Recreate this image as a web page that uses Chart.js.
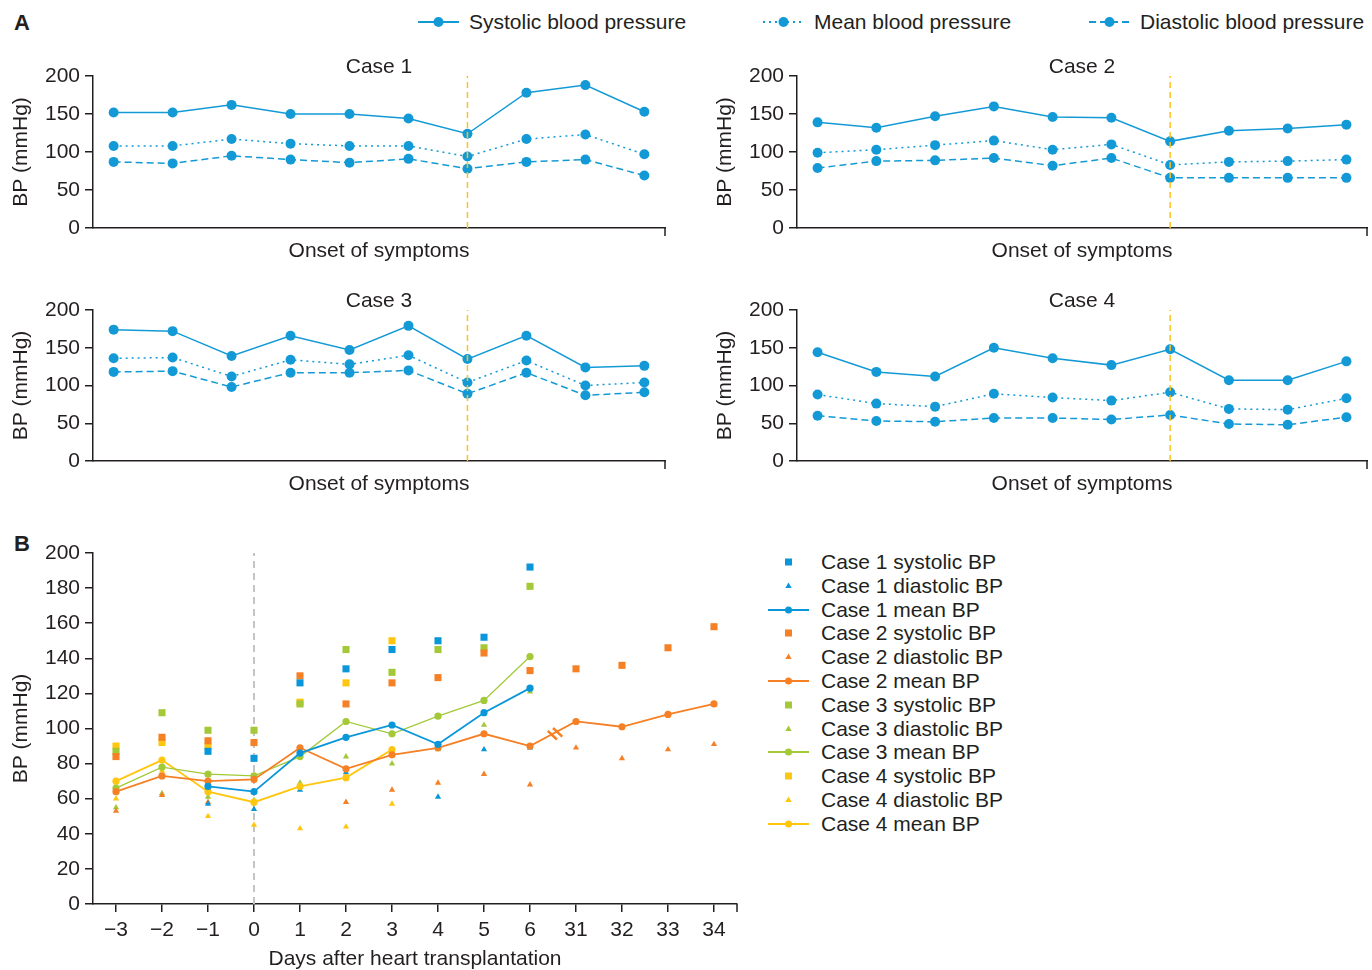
<!DOCTYPE html>
<html>
<head>
<meta charset="utf-8">
<script src="https://cdn.jsdelivr.net/npm/chart.js@4.4.1/dist/chart.umd.min.js"></script>
<style>
  body { margin: 0; background: #fff; font-family: 'Liberation Sans', Arial, sans-serif; color: #231f20; }
  #page { position: relative; width: 1372px; height: 970px; overflow: hidden; background: #fff; }
  .box { position: absolute; }
  .panel { position: absolute; font-weight: bold; font-size: 22px; line-height: 26px; }
  .leg { position: absolute; font-size: 21px; line-height: 24px; white-space: nowrap; display: flex; align-items: center; }
  .leg svg { flex: none; }
</style>
</head>
<body>
<div id="page">
  <div class="panel" style="left:14px;top:10px">A</div>
  <div class="panel" style="left:14px;top:531px">B</div>

  <canvas id="case1" class="box" width="690" height="215" style="left:0;top:50px"></canvas>
  <canvas id="case2" class="box" width="668" height="215" style="left:704px;top:50px"></canvas>
  <canvas id="case3" class="box" width="690" height="214" style="left:0;top:284px"></canvas>
  <canvas id="case4" class="box" width="668" height="214" style="left:704px;top:284px"></canvas>
  <canvas id="panelB" class="box" width="760" height="445" style="left:0;top:527px"></canvas>

  <div id="legendA"></div>
  <div id="legendB"></div>
</div>

<script>
// ===== Panel A: BP around onset of symptoms (10 time points each) =====
const aTimepoints = [0, 1, 2, 3, 4, 5, 6, 7, 8, 9];
const onsetIndex = 6;

const case1Sys  = [152, 152, 162, 150, 150, 144, 124, 178, 188, 153];
const case1Mean = [108, 108, 117, 111, 108, 108, 94, 117, 123, 97];
const case1Dia  = [87, 85, 95, 90, 86, 91, 78, 87, 90, 69];

const case2Sys  = [139, 132, 147, 160, 146, 145, 114, 128, 131, 136];
const case2Mean = [99, 103, 109, 115, 103, 110, 83, 87, 88, 90];
const case2Dia  = [79, 88, 89, 92, 82, 92, 66, 66, 66, 66];

const case3Sys  = [174, 172, 139, 166, 147, 179, 135, 166, 124, 126];
const case3Mean = [136, 137, 112, 134, 128, 140, 104, 133, 100, 104];
const case3Dia  = [118, 119, 98, 117, 117, 120, 89, 117, 87, 91];

const case4Sys  = [144, 118, 112, 150, 136, 127, 148, 107, 107, 132];
const case4Mean = [88, 76, 72, 89, 84, 80, 91, 69, 68, 83];
const case4Dia  = [60, 53, 52, 57, 57, 55, 61, 49, 48, 58];

// ===== Panel B: BP after heart transplantation =====
const bDays = ['\u22123', '\u22122', '\u22121', '0', '1', '2', '3', '4', '5', '6', '31', '32', '33', '34'];
const transplantDay = '0';
const breakAfter = '6';

const c1SysB  = [null, null, 87, 83, 126, 134, 145, 150, 152, 192, null, null, null, null];
const c1DiaB  = [null, null, 57, 54, 65, 75, null, 61, 88, 89, null, null, null, null];
const c1MeanB = [null, null, 67, 64, 86, 95, 102, 91, 109, 123, null, null, null, null];

const c2SysB  = [84, 95, 93, 92, 130, 114, 126, 129, 143, 133, 134, 136, 146, 158];
const c2DiaB  = [53, 62, 58, null, null, 58, 65, 69, 74, 68, 89, 83, 88, 91];
const c2MeanB = [64, 73, 70, 71, 89, 77, 85, 89, 97, 90, 104, 101, 108, 114];

const c3SysB  = [87, 109, 99, 99, 114, 145, 132, 145, 146, 181, null, null, null, null];
const c3DiaB  = [55, 63, 61, 59, 69, 84, 80, 88, 102, 121, null, null, null, null];
const c3MeanB = [66, 78, 74, 73, 84, 104, 97, 107, 116, 141, null, null, null, null];

const c4SysB  = [90, 92, 90, null, 115, 126, 150, null, null, null, null, null, null, null];
const c4DiaB  = [60, 76, 50, 45, 43, 44, 57, null, null, null, null, null, null, null];
const c4MeanB = [70, 82, 64, 58, 67, 72, 88, null, null, null, null, null, null, null];

// ===== styles =====
const TEXT = '#231f20';
const AXIS = '#231f20';
const BLUE_A = '#139ad6';
const ONSET = '#fcc21b';
const caseColors = ['#0a97d9', '#f58025', '#a3c939', '#ffc610'];
const FONT = "'Liberation Sans', Arial, sans-serif";

Chart.defaults.font.family = FONT;
Chart.defaults.font.size = 21;
Chart.defaults.color = TEXT;
Chart.defaults.animation = false;

const DASH_MEAN = [2, 4];
const DASH_DIA = [7, 4];

// end tick on x axis + panel title
const panelDeco = {
  id: 'panelDeco',
  afterDraw(chart, args, opts) {
    const { ctx, chartArea: a } = chart;
    ctx.save();
    ctx.strokeStyle = AXIS;
    ctx.lineWidth = 1.5;
    ctx.beginPath();
    ctx.moveTo(a.right, a.bottom);
    ctx.lineTo(a.right, a.bottom + 8);
    ctx.stroke();
    if (opts.title) {
      ctx.fillStyle = TEXT;
      ctx.font = '21px ' + FONT;
      ctx.textAlign = 'center';
      ctx.textBaseline = 'middle';
      ctx.fillText(opts.title, (a.left + a.right) / 2, a.top - 9);
    }
    ctx.restore();
  }
};

// break mark on the case 2 mean line between day 6 and day 31
const breakMark = {
  id: 'breakMark',
  afterDatasetsDraw(chart, args, opts) {
    const meta = chart.getDatasetMeta(opts.datasetIndex);
    const i = bDays.indexOf(breakAfter);
    const p0 = meta.data[i], p1 = meta.data[i + 1];
    if (!p0 || !p1) return;
    const mx = (p0.x + p1.x) / 2 + 2, my = (p0.y + p1.y) / 2;
    const ang = Math.atan2(p1.y - p0.y, p1.x - p0.x);
    const ux = Math.cos(ang), uy = Math.sin(ang);
    const nx = -uy, ny = ux;
    const ctx = chart.ctx;
    ctx.save();
    ctx.strokeStyle = opts.color;
    ctx.lineWidth = 2.5;
    [-3, 3].forEach(off => {
      const cx = mx + ux * off, cy = my + uy * off;
      ctx.beginPath();
      ctx.moveTo(cx - nx * 6 - ux * 2, cy - ny * 6 - uy * 2);
      ctx.lineTo(cx + nx * 6 + ux * 2, cy + ny * 6 + uy * 2);
      ctx.stroke();
    });
    ctx.restore();
  }
};

function toXY(vals) {
  return aTimepoints.map((t, i) => ({ x: t, y: vals[i] }));
}

function makeCaseChart(id, title, sys, mean, dia, rightPad) {
  const common = {
    borderColor: BLUE_A, backgroundColor: BLUE_A,
    borderWidth: 1.5, pointRadius: 5, pointHoverRadius: 5, pointBorderWidth: 0
  };
  return new Chart(document.getElementById(id), {
    type: 'line',
    data: {
      datasets: [
        {
          data: [{ x: onsetIndex, y: 0 }, { x: onsetIndex, y: 200 }],
          borderColor: ONSET, borderWidth: 1.5, borderDash: [6, 4], pointRadius: 0
        },
        { ...common, label: 'Systolic blood pressure', data: toXY(sys) },
        { ...common, label: 'Mean blood pressure', data: toXY(mean), borderDash: DASH_MEAN },
        { ...common, label: 'Diastolic blood pressure', data: toXY(dia), borderDash: DASH_DIA }
      ]
    },
    options: {
      responsive: false,
      layout: { padding: { left: 0, right: rightPad, top: 26, bottom: 0 } },
      plugins: { legend: { display: false }, tooltip: { enabled: false }, panelDeco: { title } },
      scales: {
        x: {
          type: 'linear', min: -0.35, max: 9.35,
          ticks: { display: false },
          grid: { display: false },
          border: { display: true, color: AXIS, width: 1.5 },
          title: { display: true, text: 'Onset of symptoms', padding: { top: 0, bottom: 1 } },
          afterFit: s => { s.height = 37; }
        },
        y: {
          min: 0, max: 200,
          ticks: { stepSize: 50, padding: 5 },
          grid: { drawOnChartArea: false, tickLength: 8, color: AXIS, lineWidth: 1.5 },
          border: { display: true, color: AXIS, width: 1.5 },
          title: { display: true, text: 'BP (mmHg)', padding: { top: 9, bottom: 0 } },
          afterFit: s => { s.width = 93; }
        }
      }
    },
    plugins: [panelDeco]
  });
}

makeCaseChart('case1', 'Case 1', case1Sys, case1Mean, case1Dia, 25);
makeCaseChart('case2', 'Case 2', case2Sys, case2Mean, case2Dia, 3);
makeCaseChart('case3', 'Case 3', case3Sys, case3Mean, case3Dia, 25);
makeCaseChart('case4', 'Case 4', case4Sys, case4Mean, case4Dia, 3);

// ===== Panel B chart =====
const bSeries = [
  { label: 'Case 1 systolic BP',  kind: 'sys',  c: 0, data: c1SysB },
  { label: 'Case 1 diastolic BP', kind: 'dia',  c: 0, data: c1DiaB },
  { label: 'Case 1 mean BP',      kind: 'mean', c: 0, data: c1MeanB },
  { label: 'Case 2 systolic BP',  kind: 'sys',  c: 1, data: c2SysB },
  { label: 'Case 2 diastolic BP', kind: 'dia',  c: 1, data: c2DiaB },
  { label: 'Case 2 mean BP',      kind: 'mean', c: 1, data: c2MeanB },
  { label: 'Case 3 systolic BP',  kind: 'sys',  c: 2, data: c3SysB },
  { label: 'Case 3 diastolic BP', kind: 'dia',  c: 2, data: c3DiaB },
  { label: 'Case 3 mean BP',      kind: 'mean', c: 2, data: c3MeanB },
  { label: 'Case 4 systolic BP',  kind: 'sys',  c: 3, data: c4SysB },
  { label: 'Case 4 diastolic BP', kind: 'dia',  c: 3, data: c4DiaB },
  { label: 'Case 4 mean BP',      kind: 'mean', c: 3, data: c4MeanB }
];

const bDatasets = bSeries.map(s => {
  const col = caseColors[s.c];
  const ds = { label: s.label, data: s.data, borderColor: col, backgroundColor: col, pointBorderWidth: 0 };
  if (s.kind === 'sys') Object.assign(ds, { showLine: false, pointStyle: 'rect', pointRadius: 5, pointHoverRadius: 5 });
  if (s.kind === 'dia') Object.assign(ds, { showLine: false, pointStyle: 'triangle', pointRadius: 3.6, pointHoverRadius: 3.6 });
  if (s.kind === 'mean') Object.assign(ds, { pointStyle: 'circle', pointRadius: 3.6, pointHoverRadius: 3.6, borderWidth: s.c === 2 ? 1.3 : 1.8 });
  return ds;
});
// mean lines on top of scatter marks
const bOrdered = bDatasets.filter(d => d.showLine !== false).concat(bDatasets.filter(d => d.showLine === false));
bOrdered.push({
  label: 'transplant',
  data: [{ x: transplantDay, y: 0 }, { x: transplantDay, y: 200 }],
  borderColor: '#c4c4c4', borderWidth: 2, borderDash: [7, 5], pointRadius: 0
});
const case2MeanIdx = bOrdered.findIndex(d => d.label === 'Case 2 mean BP');

new Chart(document.getElementById('panelB'), {
  type: 'line',
  data: { labels: bDays, datasets: bOrdered },
  options: {
    responsive: false,
    layout: { padding: { left: 0, right: 23, top: 26, bottom: 0 } },
    plugins: {
      legend: { display: false }, tooltip: { enabled: false },
      panelDeco: {},
      breakMark: { datasetIndex: case2MeanIdx, color: caseColors[1] }
    },
    scales: {
      x: {
        type: 'category', offset: true,
        ticks: { padding: 6, autoSkip: false, maxRotation: 0 },
        grid: { offset: false, drawOnChartArea: false, tickLength: 8, color: AXIS, lineWidth: 1.5 },
        border: { display: true, color: AXIS, width: 1.5 },
        title: { display: true, text: 'Days after heart transplantation', padding: { top: 0, bottom: 0 } },
        afterFit: s => { s.height = 68; }
      },
      y: {
        min: 0, max: 200,
        ticks: { stepSize: 20, padding: 5 },
        grid: { drawOnChartArea: false, tickLength: 8, color: AXIS, lineWidth: 1.5 },
        border: { display: true, color: AXIS, width: 1.5 },
        title: { display: true, text: 'BP (mmHg)', padding: { top: 9, bottom: 0 } },
        afterFit: s => { s.width = 93; }
      }
    }
  },
  plugins: [panelDeco, breakMark]
});

// ===== legends (HTML) =====
function markSvg(kind, color, w, dash) {
  const h = 24, cy = 12, cx = w / 2;
  let s = `<svg width="${w}" height="${h}" viewBox="0 0 ${w} ${h}">`;
  if (kind === 'line') {
    s += `<line x1="0" y1="${cy}" x2="${w}" y2="${cy}" stroke="${color}" stroke-width="1.8"${dash ? ` stroke-dasharray="${dash}"` : ''}/>`;
    s += `<circle cx="${cx}" cy="${cy}" r="5" fill="${color}"/>`;
  } else if (kind === 'mean') {
    s += `<line x1="0" y1="${cy}" x2="${w}" y2="${cy}" stroke="${color}" stroke-width="1.8"/>`;
    s += `<circle cx="${cx}" cy="${cy}" r="3.5" fill="${color}"/>`;
  } else if (kind === 'sys') {
    s += `<rect x="${cx - 3.5}" y="${cy - 3.5}" width="7" height="7" fill="${color}"/>`;
  } else {
    s += `<polygon points="${cx},${cy - 3.5} ${cx + 3.2},${cy + 2} ${cx - 3.2},${cy + 2}" fill="${color}"/>`;
  }
  return s + '</svg>';
}

const legendA = document.getElementById('legendA');
const aLegendItems = [
  { text: 'Systolic blood pressure', dash: null, left: 418 },
  { text: 'Mean blood pressure', dash: DASH_MEAN.join(' '), left: 763 },
  { text: 'Diastolic blood pressure', dash: DASH_DIA.join(' '), left: 1089 }
];
aLegendItems.forEach(it => {
  const d = document.createElement('div');
  d.className = 'leg';
  d.style.left = it.left + 'px';
  d.style.top = '10px';
  d.innerHTML = markSvg('line', BLUE_A, 41, it.dash) + `<span style="margin-left:10px">${it.text}</span>`;
  legendA.appendChild(d);
});

const legendB = document.getElementById('legendB');
bSeries.forEach((s, i) => {
  const d = document.createElement('div');
  d.className = 'leg';
  d.style.left = '768px';
  d.style.top = (550 + i * 23.8) + 'px';
  d.innerHTML = markSvg(s.kind, caseColors[s.c], 41, null) + `<span style="margin-left:12px">${s.label}</span>`;
  legendB.appendChild(d);
});
</script>
</body>
</html>
